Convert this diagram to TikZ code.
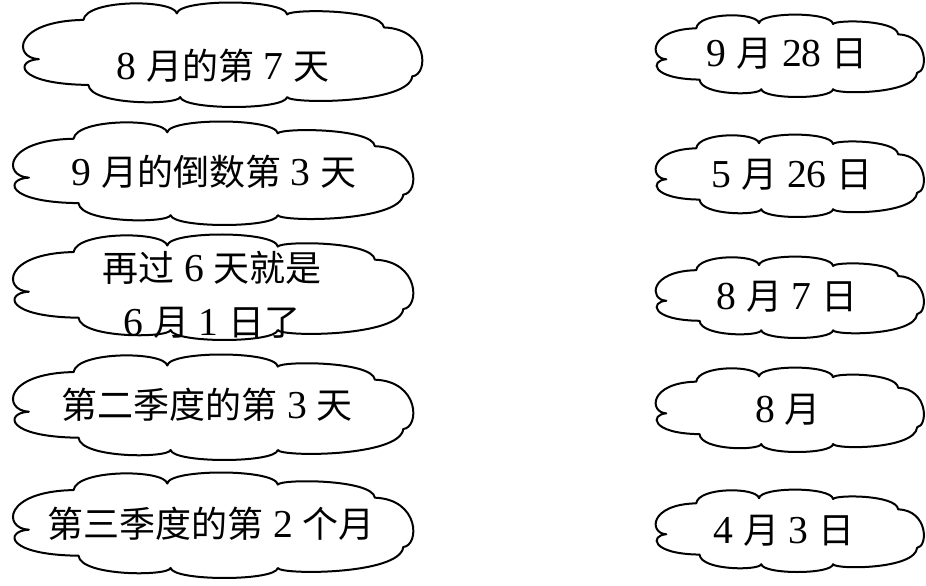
\documentclass[tikz,border=0pt]{standalone}
\usepackage{fontspec}
\setmainfont{Liberation Serif}[Scale=1.1]
\newfontfamily\cjk{Noto Sans CJK SC}
\newcommand\zh[1]{{\cjk #1}}
\tikzset{
  cloudline/.style={draw=black,line width=1pt,line join=round},
  lbl/.style={font=\fontsize{18}{27}\selectfont, inner sep=0pt, align=center}
}
\newcommand\cloudshape[4]{%
 \begin{scope}[shift={(#1,#2)},xscale=#3,yscale=-#4]
 \draw[cloudline] (-0.705,0.675) .. controls (-0.69,1.075) and (-0.25,1.075) .. (-0.233,0.80)
 .. controls (-0.22,1.083) and (0.31,1.083) .. (0.324,0.78)
 .. controls (0.34,0.888) and (0.80,0.888) .. (0.813,0.53)
 .. controls (1.039,0.50) and (1.039,-0.38) .. (0.956,-0.41)
 .. controls (0.94,-0.943) and (0.34,-0.943) .. (0.324,-0.81)
 .. controls (0.31,-1.063) and (-0.20,-1.063) .. (-0.216,-0.81)
 .. controls (-0.23,-0.969) and (-0.67,-0.969) .. (-0.68,-0.575)
 .. controls (-1.052,-0.56) and (-1.052,-0.10) .. (-0.93,-0.08)
 .. controls (-1.061,-0.06) and (-1.061,0.65) .. (-0.705,0.675) -- cycle;
 \end{scope}}
\begin{document}
\begin{tikzpicture}[x=0.5pt,y=-0.5pt]
\useasboundingbox (0,0) rectangle (926,585);
% left clouds
\cloudshape{223}{55}{198}{52}
\cloudshape{213.5}{173.5}{198.5}{51.5}
\cloudshape{213.5}{287.5}{198.5}{52.5}
\cloudshape{213.5}{407.5}{198.5}{52.5}
\cloudshape{213.5}{525.5}{198.5}{52.5}
% right clouds
\cloudshape{790}{56}{133}{41}
\cloudshape{790}{176}{133}{41}
\cloudshape{790}{297.5}{133}{40.5}
\cloudshape{790}{410}{133}{42}
\cloudshape{790}{531}{133}{41}
% texts
\node[lbl] (L1) at (223,66) {8 \zh{月的第} 7 \zh{天}};
\node[lbl] (L2) at (214,172) {9 \zh{月的倒数第} 3 \zh{天}};
\node[lbl] (L3) at (212,295) {\zh{再过} 6 \zh{天就是}\\6 \zh{月} 1 \zh{日了}};
\node[lbl] (L4) at (207,405) {\zh{第二季度的第} 3 \zh{天}};
\node[lbl] (L5) at (211,524) {\zh{第三季度的第} 2 \zh{个月}};
\node[lbl] (R1) at (787,54) {9 \zh{月} 28 \zh{日}};
\node[lbl] (R2) at (792,175) {5 \zh{月} 26 \zh{日}};
\node[lbl] (R3) at (787,297) {8 \zh{月} 7 \zh{日}};
\node[lbl] (R4) at (788,410) {8 \zh{月}};
\node[lbl] (R5) at (784,531) {4 \zh{月} 3 \zh{日}};
\end{tikzpicture}
\end{document}
